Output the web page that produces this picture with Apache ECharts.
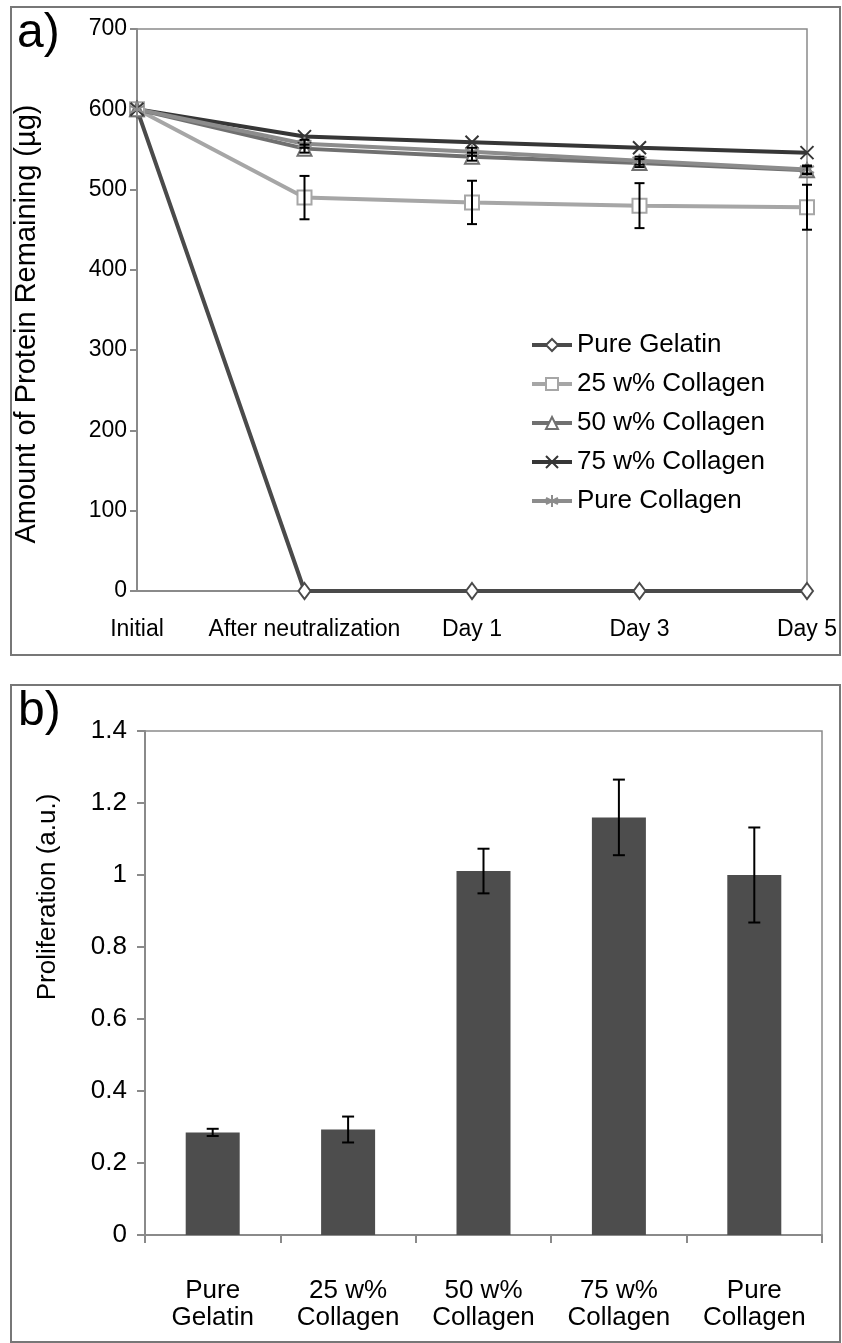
<!DOCTYPE html>
<html lang="en">
<head>
  <meta charset="UTF-8">
  <title>Protein remaining and proliferation</title>
  <script src="https://cdn.jsdelivr.net/npm/echarts@6/dist/echarts.min.js"></script>
  <style>
    html, body { margin: 0; padding: 0; background: #fff; }
    #main { width: 842px; height: 1343px; }
  </style>
</head>
<body>
  <div id="main"></div>
  <script type="text/javascript">
    // panel a) - protein remaining over time
    var timeLabels = ['Initial', 'After neutralization', 'Day 1', 'Day 3', 'Day 5'];
    var gelatin = [600, 0, 0, 0, 0];
    var col25 = [600, 490, 484, 480, 478];
    var col25Err = [0, 27, 27, 28, 28];
    var col50 = [600, 551, 541, 533, 524];
    var col50Err = [0, 5, 5, 5, 5];
    var col75 = [600, 566, 559, 552, 546];
    var colPure = [600, 557, 547, 536, 525];
    var colPureErr = [0, 5, 5, 5, 5];

    // panel b) - proliferation
    var groups = ['Pure\nGelatin', '25 w%\nCollagen', '50 w%\nCollagen', '75 w%\nCollagen', 'Pure\nCollagen'];
    var prolif = [0.285, 0.293, 1.011, 1.16, 1.0];
    var prolifErr = [0.01, 0.036, 0.062, 0.105, 0.132];

    var FONT = "'Liberation Sans', Arial, sans-serif";
    var AXIS_GREY = '#8a8a8a';

    // X and asterisk markers
    var crossPath = 'path://M0,0L10,10M10,0L0,10';
    var starPath = 'path://M5,0L5,10M0.7,2.5L9.3,7.5M0.7,7.5L9.3,2.5';

    function errorBars(vals, errs, cap, xi, yi, z) {
      return {
        type: 'custom',
        xAxisIndex: xi,
        yAxisIndex: yi,
        z: z,
        silent: true,
        data: vals.map(function (v, i) { return [i, v]; }),
        renderItem: function (params, api) {
          var i = api.value(0);
          var e = errs[i];
          if (!e) return;
          var top = api.coord([i, vals[i] + e]);
          var bot = api.coord([i, vals[i] - e]);
          var st = { stroke: '#000', lineWidth: 2 };
          return {
            type: 'group',
            children: [
              { type: 'line', shape: { x1: top[0], y1: top[1], x2: bot[0], y2: bot[1] }, style: st },
              { type: 'line', shape: { x1: top[0] - cap, y1: top[1], x2: top[0] + cap, y2: top[1] }, style: st },
              { type: 'line', shape: { x1: bot[0] - cap, y1: bot[1], x2: bot[0] + cap, y2: bot[1] }, style: st }
            ]
          };
        }
      };
    }

    function lineSeries(name, data, color, symbol, size) {
      return {
        name: name,
        type: 'line',
        xAxisIndex: 0,
        yAxisIndex: 0,
        data: data,
        z: 2,
        symbol: symbol,
        symbolSize: size,
        showAllSymbol: true,
        lineStyle: { color: color, width: 4 },
        itemStyle: { color: color, borderColor: color, borderWidth: 2 },
        emphasis: { disabled: true }
      };
    }

    var myChart = echarts.init(document.getElementById('main'));

    var option = {
      animation: false,
      backgroundColor: '#fff',
      textStyle: { fontFamily: FONT },
      graphic: [
        { type: 'rect', shape: { x: 11, y: 7, width: 829, height: 648 },
          style: { fill: 'none', stroke: '#777', lineWidth: 2 }, z: -1 },
        { type: 'rect', shape: { x: 11, y: 685, width: 829, height: 657 },
          style: { fill: 'none', stroke: '#777', lineWidth: 2 }, z: -1 },
        { type: 'text', left: 17, top: 10,
          style: { text: 'a)', font: '48px ' + FONT, fill: '#000' } },
        { type: 'text', left: 18, top: 688,
          style: { text: 'b)', font: '48px ' + FONT, fill: '#000' } },
        { type: 'text', x: 27, y: 324, rotation: Math.PI / 2,
          style: { text: 'Amount of Protein Remaining (\u00b5g)', font: '29px ' + FONT, fill: '#000',
                   align: 'center', verticalAlign: 'middle' } },
        { type: 'text', x: 48, y: 897, rotation: Math.PI / 2,
          style: { text: 'Proliferation (a.u.)', font: '26px ' + FONT, fill: '#000',
                   align: 'center', verticalAlign: 'middle' } }
      ],
      legend: {
        orient: 'vertical',
        left: 530,
        top: 332,
        padding: 0,
        itemWidth: 40,
        itemHeight: 15,
        itemGap: 13,
        lineStyle: { width: 4 },
        textStyle: { fontSize: 26, color: '#000', fontFamily: FONT },
        data: ['Pure Gelatin', '25 w% Collagen', '50 w% Collagen', '75 w% Collagen', 'Pure Collagen']
      },
      grid: [
        { left: 137, right: 35, top: 29, bottom: 752, show: true, borderColor: AXIS_GREY, borderWidth: 1.5 },
        { left: 145, right: 20, top: 731, bottom: 108, show: true, borderColor: AXIS_GREY, borderWidth: 1.5 }
      ],
      xAxis: [
        {
          gridIndex: 0,
          type: 'category',
          data: timeLabels,
          boundaryGap: false,
          axisLine: { lineStyle: { color: AXIS_GREY, width: 2 } },
          axisTick: { show: false },
          axisLabel: { color: '#000', fontSize: 23, margin: 27, interval: 0, fontFamily: FONT },
          splitLine: { show: false }
        },
        {
          gridIndex: 1,
          type: 'category',
          data: groups,
          axisLine: { lineStyle: { color: AXIS_GREY, width: 2 } },
          axisTick: { show: true, length: 8, lineStyle: { color: AXIS_GREY, width: 2 } },
          axisLabel: { color: '#000', fontSize: 26, lineHeight: 27, margin: 42, interval: 0, fontFamily: FONT },
          splitLine: { show: false }
        }
      ],
      yAxis: [
        {
          gridIndex: 0,
          type: 'value',
          min: 0,
          max: 700,
          interval: 100,
          axisLine: { show: true, lineStyle: { color: AXIS_GREY, width: 2 } },
          axisTick: { show: true, length: 7, lineStyle: { color: AXIS_GREY, width: 2 } },
          axisLabel: { color: '#000', fontSize: 23, margin: 10, fontFamily: FONT },
          splitLine: { show: false }
        },
        {
          gridIndex: 1,
          type: 'value',
          min: 0,
          max: 1.4,
          interval: 0.2,
          axisLine: { show: true, lineStyle: { color: AXIS_GREY, width: 2 } },
          axisTick: { show: true, length: 8, lineStyle: { color: AXIS_GREY, width: 2 } },
          axisLabel: { color: '#000', fontSize: 26, margin: 18, fontFamily: FONT },
          splitLine: { show: false }
        }
      ],
      series: [
        lineSeries('Pure Gelatin', gelatin, '#4a4a4a', 'emptyDiamond', [12, 16]),
        lineSeries('25 w% Collagen', col25, '#a6a6a6', 'emptyRect', 14),
        lineSeries('50 w% Collagen', col50, '#707070', 'emptyTriangle', 14),
        lineSeries('75 w% Collagen', col75, '#363636', crossPath, 13),
        lineSeries('Pure Collagen', colPure, '#8c8c8c', starPath, 14),
        errorBars(col25, col25Err, 5, 0, 0, 4),
        errorBars(col50, col50Err, 5, 0, 0, 4),
        errorBars(colPure, colPureErr, 5, 0, 0, 4),
        {
          name: 'Proliferation',
          type: 'bar',
          xAxisIndex: 1,
          yAxisIndex: 1,
          data: prolif,
          barWidth: 54,
          itemStyle: { color: '#4d4d4d' },
          emphasis: { disabled: true }
        },
        errorBars(prolif, prolifErr, 6, 1, 1, 5)
      ]
    };

    myChart.setOption(option);
  </script>
</body>
</html>
